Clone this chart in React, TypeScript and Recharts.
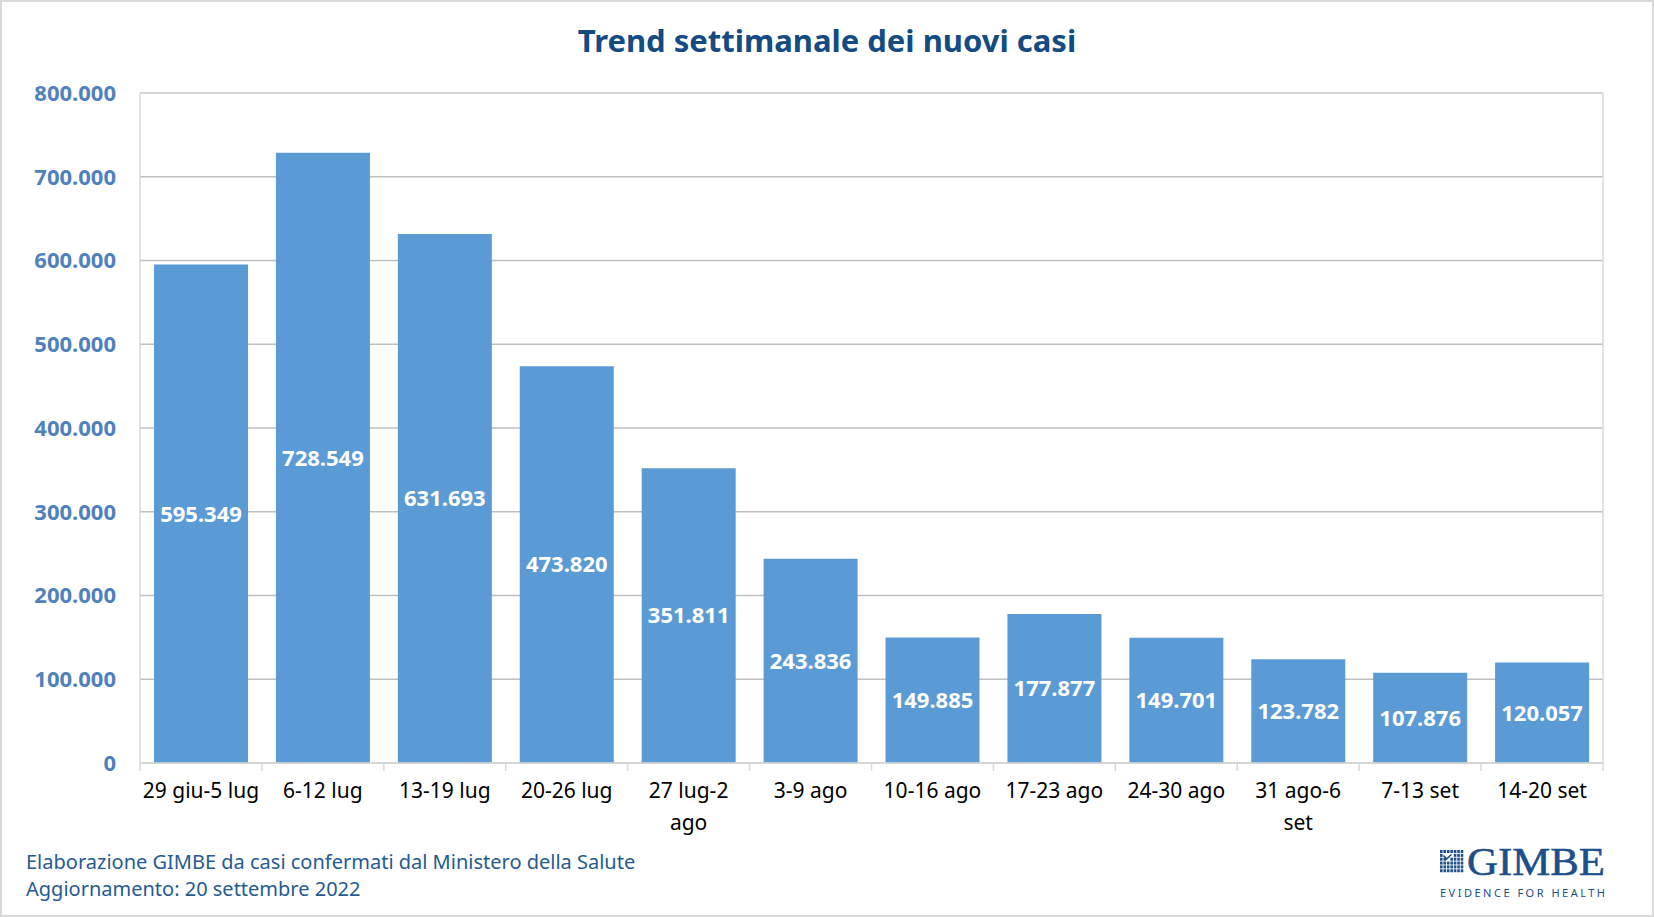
import React from 'react';
import { BarChart, Bar, XAxis, YAxis, CartesianGrid, LabelList, ReferenceLine } from 'recharts';

const categories = [
  '29 giu-5 lug', '6-12 lug', '13-19 lug', '20-26 lug', '27 lug-2 ago', '3-9 ago',
  '10-16 ago', '17-23 ago', '24-30 ago', '31 ago-6 set', '7-13 set', '14-20 set',
];
const tickLabels = [
  '29 giu-5 lug', '6-12 lug', '13-19 lug', '20-26 lug', '27 lug-2\nago', '3-9 ago',
  '10-16 ago', '17-23 ago', '24-30 ago', '31 ago-6\nset', '7-13 set', '14-20 set',
];
const newCases = [595349, 728549, 631693, 473820, 351811, 243836, 149885, 177877, 149701, 123782, 107876, 120057];
const yTicks = [0, 100000, 200000, 300000, 400000, 500000, 600000, 700000, 800000];

const data = categories.map((c, i) => ({ week: c, cases: newCases[i] }));

const W = 1654;
const H = 917;
const FONT = '"Noto Sans", "Open Sans", sans-serif';
const fmt = (n: number) => String(Math.round(n)).replace(/\B(?=(\d{3})+(?!\d))/g, '.');

const XTick = (props: any) => {
  const { x, y, payload } = props;
  const idx = categories.indexOf(payload.value);
  const half = payload.offset ?? (1603 - 140) / categories.length / 2;
  const label = (idx >= 0 ? tickLabels[idx] : String(payload.value)) || '';
  const lines = label.split('\n');
  return (
    <g>
      <line x1={x - half} x2={x - half} y1={y} y2={y + 8} stroke="#d9d9d9" strokeWidth={1.5} />
      {idx === categories.length - 1 && (
        <line x1={x + half} x2={x + half} y1={y} y2={y + 8} stroke="#d9d9d9" strokeWidth={1.5} />
      )}
      <text x={x} y={y} textAnchor="middle" fontSize={21} fill="#000" fontFamily={FONT}>
        {lines.map((l, i) => (
          <tspan key={i} x={x} dy={i === 0 ? 35 : 32}>{l}</tspan>
        ))}
      </text>
    </g>
  );
};

const Logo = () => {
  const cells: React.ReactNode[] = [];
  for (let r = 0; r < 6; r++) {
    for (let c = 0; c < 7; c++) {
      if ((r === 1 && (c === 1 || c === 2 || c === 3)) || (r === 2 && c === 2)) continue;
      cells.push(<rect key={`${r}-${c}`} x={c * 3.45} y={r * 3.85} width={2.6} height={3} fill="#1d4f8a" />);
    }
  }
  return (
    <svg width={184} height={76} style={{ position: 'absolute', left: 1436, top: 829, overflow: 'visible' }}>
      <g transform="translate(4,21)">
        {cells}
        <path d="M3.5,5.5 L6.5,9 L11.5,4.5" stroke="#1d4f8a" strokeWidth={1.6} fill="none" />
      </g>
      <text x={31} y={46} fontFamily='"Liberation Serif", "DejaVu Serif", serif' fontSize={41} fill="#1d4f8a"
        stroke="#1d4f8a" strokeWidth={0.6}
        textLength={138} lengthAdjust="spacingAndGlyphs">GIMBE</text>
      <text x={4} y={68} fontFamily={FONT} fontSize={11} fill="#1d4f8a"
        textLength={165} lengthAdjust="spacing">EVIDENCE FOR HEALTH</text>
    </svg>
  );
};

export default function App() {
  return (
    <div style={{ position: 'absolute', left: 0, top: 0, width: W, height: H, background: '#fff', fontFamily: FONT }}>
      <BarChart
        width={W}
        height={H}
        data={data}
        margin={{ top: 93, right: 50, left: 0, bottom: 84 }}
        barCategoryGap="11.5%"
      >
        <CartesianGrid vertical={false} stroke="#bfbfbf" strokeWidth={1.5} />
        <ReferenceLine y={800000} stroke="#d9d9d9" strokeWidth={1.5} ifOverflow="extendDomain" />
        <XAxis
          dataKey="week"
          interval={0}
          tickSize={0}
          tickMargin={0}
          tickLine={false}
          axisLine={{ stroke: '#d9d9d9', strokeWidth: 1.5 }}
          tick={<XTick />}
          height={70}
        />
        <YAxis
          domain={[0, 800000]}
          ticks={yTicks}
          width={140}
          tickSize={6}
          tickMargin={18}
          tickLine={false}
          axisLine={{ stroke: '#d9d9d9', strokeWidth: 1.5 }}
          tickFormatter={fmt}
          tick={{ fill: '#4f81bd', fontSize: 22, fontWeight: 700, fontFamily: FONT }}
          allowDataOverflow
        />
        <YAxis
          yAxisId="r"
          orientation="right"
          domain={[0, 800000]}
          width={1}
          tick={false}
          tickLine={false}
          axisLine={{ stroke: '#d9d9d9', strokeWidth: 1.5 }}
        />
        <Bar dataKey="cases" fill="#5b9bd5" isAnimationActive={false}>
          <LabelList
            dataKey="cases"
            position="center"
            formatter={(v: any) => fmt(Number(v))}
            fill="#ffffff"
            fontSize={22}
            fontWeight={700}
            fontFamily={FONT}
          />
        </Bar>
      </BarChart>

      <div style={{
        position: 'absolute', left: 0, top: 22, width: W, textAlign: 'center',
        fontSize: 31, lineHeight: '36px', fontWeight: 700, color: '#134b82',
      }}>
        Trend settimanale dei nuovi casi
      </div>

      <div style={{ position: 'absolute', left: 26, top: 848, fontSize: 20, lineHeight: '28px', color: '#245b91', whiteSpace: 'nowrap' }}>
        Elaborazione GIMBE da casi confermati dal Ministero della Salute
      </div>
      <div style={{ position: 'absolute', left: 26, top: 875, fontSize: 20, lineHeight: '28px', color: '#245b91', whiteSpace: 'nowrap' }}>
        Aggiornamento: 20 settembre 2022
      </div>

      <Logo />

      <div style={{
        position: 'absolute', left: 0, top: 0, width: W, height: H, boxSizing: 'border-box',
        border: '2px solid #d9d9d9', pointerEvents: 'none',
      }} />
    </div>
  );
}
